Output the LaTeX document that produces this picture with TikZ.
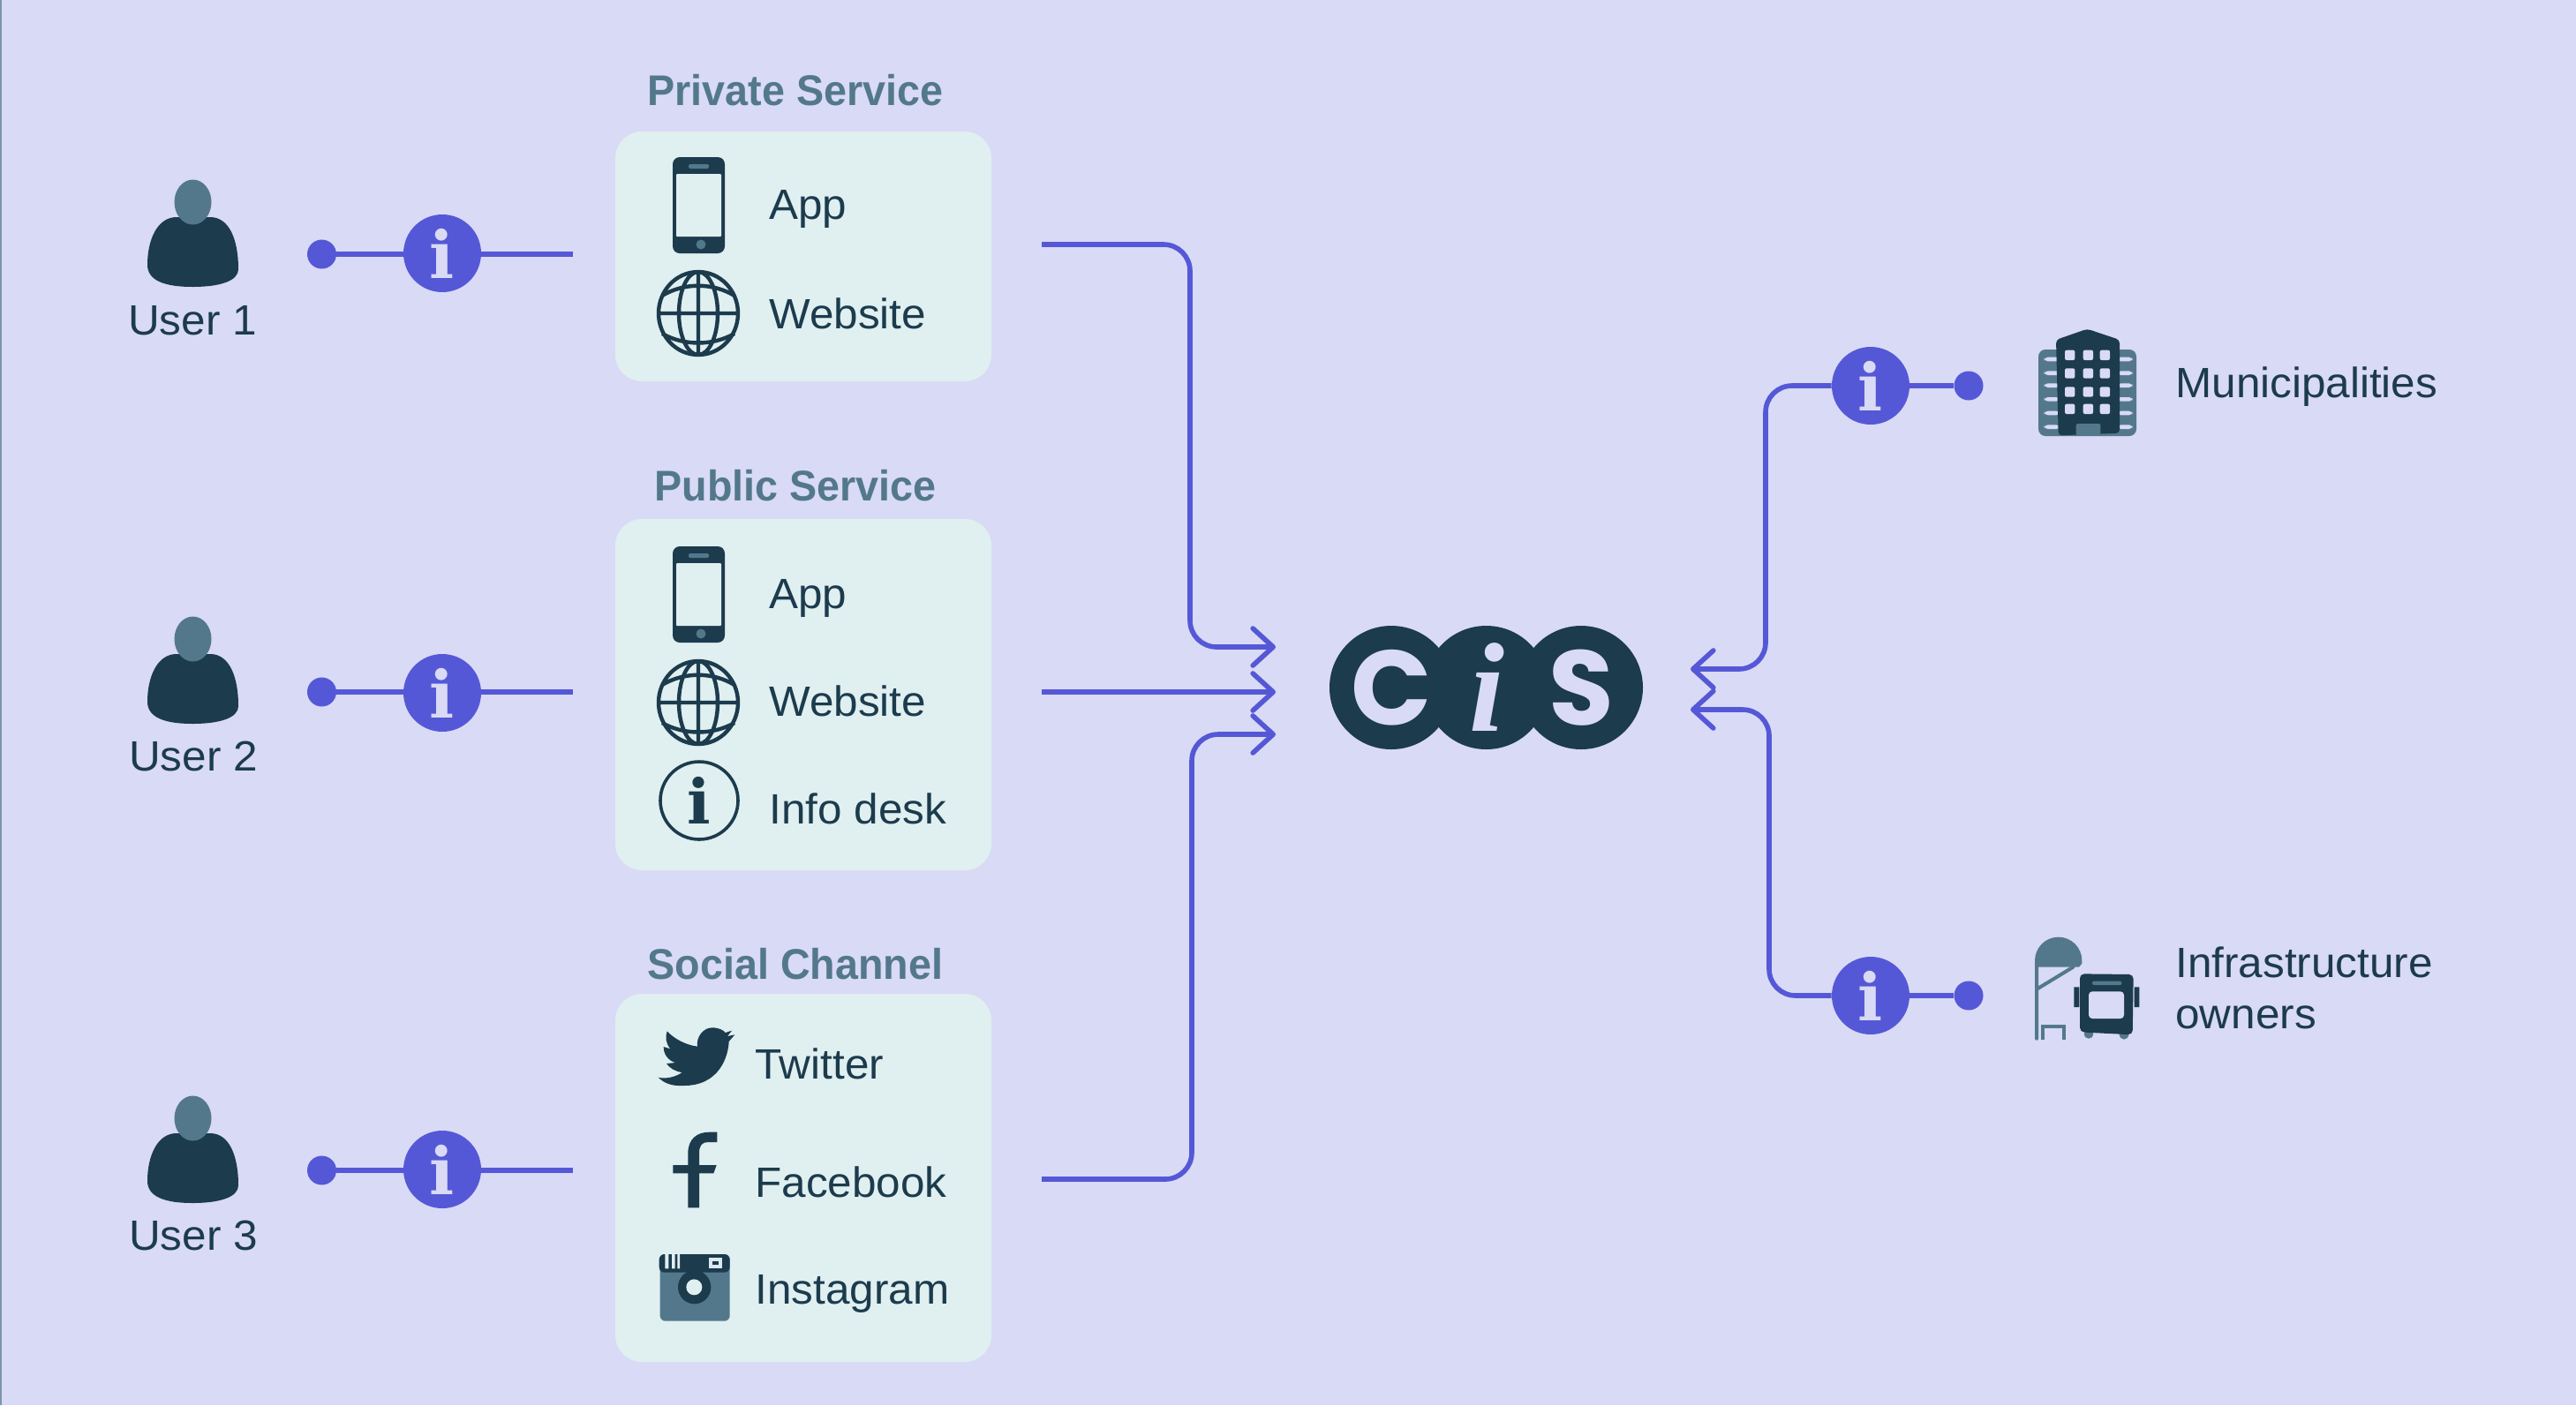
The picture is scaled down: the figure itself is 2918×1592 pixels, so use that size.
\documentclass[tikz,border=0pt]{standalone}
\usepackage{fontspec}
\setmainfont{Liberation Sans}
\newfontfamily\textlabelfont[FakeStretch=1.03]{Liberation Sans}
\newfontfamily\headfont[FakeStretch=0.96]{Liberation Sans}
\newfontfamily\glyphfont{DejaVu Serif}
\newfontfamily\logofont{Poppins}
\newfontfamily\logoifont{Liberation Serif}
\usetikzlibrary{arrows.meta}
\definecolor{bgc}{HTML}{D9DAF5}
\definecolor{boxc}{HTML}{E0EFF0}
\definecolor{darkc}{HTML}{1C3B4D}
\definecolor{slatec}{HTML}{53788C}
\definecolor{purplec}{HTML}{5558D6}
\newcommand{\lbl}{\textlabelfont\fontsize{24}{28}\selectfont}
\tikzset{
  panel/.style={fill=boxc,rounded corners=15pt},
  itemlabel/.style={anchor=base west,inner sep=0pt,text=darkc,font=\lbl},
  userlabel/.style={anchor=base,inner sep=0pt,text=darkc,font=\lbl},
  heading/.style={anchor=base,inner sep=0pt,text=slatec,font=\headfont\bfseries\fontsize{24.3}{28}\selectfont},
  badge/.style={circle,fill=purplec,text=bgc,minimum size=44pt,inner sep=0pt,font=\glyphfont\bfseries\fontsize{37}{37}\selectfont},
  infoicon/.style={circle,draw=darkc,line width=1.8pt,text=darkc,minimum size=44pt,inner sep=0pt,font=\glyphfont\bfseries\fontsize{35}{35}\selectfont},
  dotend/.style={circle,fill=purplec,minimum size=16.5pt,inner sep=0pt},
  link/.style={draw=purplec,line width=3pt},
  flow/.style={draw=purplec,line width=2.8pt,rounded corners=15pt,-{Straight Barb[length=11.5pt,width=21pt,round]}},
  logodisc/.style={circle,fill=darkc,minimum size=70pt,inner sep=0pt},
  logoletter/.style={text=bgc,font=\logofont\bfseries\fontsize{60}{60}\selectfont,inner sep=0pt},
  person/.pic={
    \fill[darkc] (167,300) .. controls (167,272) and (178,246) .. (200,246) -- (238,246)
      .. controls (260,246) and (270,272) .. (270,305) .. controls (270,318) and (250,325) .. (218,325)
      .. controls (187,325) and (167,318) .. (167,300) -- cycle;
    \fill[slatec] (218.5,229) ellipse [x radius=21,y radius=25.5];
  },
  phone/.pic={
    \fill[darkc,rounded corners=4pt] (762,178) rectangle (821,287);
    \fill[boxc,rounded corners=0.5pt] (766,197) rectangle (817,268);
    \fill[slatec,rounded corners=1pt] (780,186) rectangle (803,191);
    \fill[slatec] (794,277) circle [radius=5.5];
  },
  globe/.pic={
    \draw[darkc,line width=2.2pt] (791,355) ellipse [x radius=45,y radius=47]
      (791,308) -- (791,402)
      (791,355) ellipse [x radius=22,y radius=47]
      (746,355) -- (836,355)
      (750,335) .. controls (775,320) and (807,320) .. (832,335)
      (750,378) .. controls (775,392) and (807,392) .. (832,378);
  }
}
\begin{document}
\begin{tikzpicture}[x=0.5pt,y=-0.5pt]
\useasboundingbox (0,0) rectangle (2918,1592);
\fill[bgc] (0,0) rectangle (2918,1592);
\fill[slatec!70!bgc] (0,0) rectangle (2,1592);

% panels
\path[panel] (697,149) rectangle (1123,432);
\path[panel] (697,588) rectangle (1123,986);
\path[panel] (697,1126) rectangle (1123,1543);

% headings
\node[heading] (hPrivate) at (901,119) {Private Service};
\node[heading] (hPublic) at (901,567) {Public Service};
\node[heading] (hSocial) at (901,1109) {Social Channel};

% users
\pic at (0,0) {person};
\pic at (0,495) {person};
\pic at (0,1038) {person};
\node[userlabel] (u1) at (218,379) {User 1};
\node[userlabel] (u2) at (219,873) {User 2};
\node[userlabel] (u3) at (219,1416) {User 3};

% user links
\coordinate (e1) at (649,288);
\coordinate (e2) at (649,784);
\coordinate (e3) at (649,1326);
\node[dotend] (d1) at (364.5,288) {};
\node[dotend] (d2) at (364.5,784) {};
\node[dotend] (d3) at (364.5,1326) {};
\draw[link] (d1) -- (e1);
\draw[link] (d2) -- (e2);
\draw[link] (d3) -- (e3);
\node[badge] (b1) at (501,287) {i};
\node[badge] (b2) at (501,785) {i};
\node[badge] (b3) at (501,1325) {i};

% panel 1
\pic at (0,0) {phone};
\pic at (0,0) {globe};
\node[itemlabel] (t1a) at (871,248) {App};
\node[itemlabel] (t1b) at (871,372) {Website};
% panel 2
\pic at (0,441) {phone};
\pic at (0,441) {globe};
\node[infoicon] (infodesk) at (792,907) {i};
\node[itemlabel] (t2a) at (871,689) {App};
\node[itemlabel] (t2b) at (871,811) {Website};
\node[itemlabel] (t2c) at (871,933) {Info desk};
% panel 3
\begin{scope}[shift={(680,1100)},x=0.16667pt,y=-0.16667pt]
  \fill[darkc] (380,193) .. controls (405,193) and (420,203) .. (425,210) -- (447,203) -- (432,222) -- (457,217) -- (437,240)
    .. controls (435,290) and (405,392) .. (280,390) .. controls (240,392) and (215,380) .. (197,362)
    .. controls (220,368) and (255,362) .. (278,345) .. controls (255,342) and (235,330) .. (225,315)
    -- (255,312) .. controls (232,305) and (215,285) .. (215,258) -- (238,265)
    .. controls (222,245) and (220,225) .. (227,205) .. controls (250,230) and (290,252) .. (330,257)
    .. controls (325,225) and (350,193) .. (380,193) -- cycle;
  \fill[darkc] (298,805) -- (298,688) -- (247,688) -- (247,660) -- (298,660) -- (298,620)
    .. controls (298,570) and (330,548) .. (370,548) -- (397,548) -- (397,582) -- (365,582)
    .. controls (345,582) and (336,595) .. (336,620) -- (336,660) -- (395,660) -- (385,688)
    -- (336,688) -- (336,805) -- cycle;
  \fill[slatec,rounded corners=3pt] (203,963) rectangle (440,1190);
  \fill[darkc,rounded corners=3pt] (200,963) -- (440,963) -- (440,1025) -- (200,1025) -- cycle;
  \fill[boxc] (220,963) rectangle (232,1012) (243,963) rectangle (254,1012) (262,963) rectangle (270,1012);
  \fill[bgc!40!boxc] (370,975) rectangle (415,1012);
  \fill[darkc] (382,986) rectangle (403,1000);
  \fill[darkc] (320,1075) ellipse [x radius=56,y radius=57];
  \fill[boxc] (319,1075) circle [radius=27];
\end{scope}
\node[itemlabel] (t3a) at (855,1222) {Twitter};
\node[itemlabel] (t3b) at (855,1356) {Facebook};
\node[itemlabel] (t3c) at (855,1477) {Instagram};

% logo
\node[logodisc] (lc) at (1576,779) {};
\node[logodisc] (li) at (1683.5,779) {};
\node[logodisc] (ls) at (1791,779) {};
\node[logoletter] (lC) at (1576,779) {C};
\node[logoletter,font=\logoifont\bfseries\itshape\fontsize{72}{72}\selectfont] (lI) at (1684,779) {i};
\node[logoletter] (lS) at (1791,779) {S};

% flows
\coordinate (s1) at (1180,277);
\coordinate (s2) at (1180,784);
\coordinate (s3) at (1180,1336);
\coordinate (t1) at (1445,733);
\coordinate (t2) at (1445,784);
\coordinate (t3) at (1445,832);
\draw[flow] (s1) -- (1348,277) -- (1348,733) -- (t1);
\draw[flow,rounded corners=0pt] (s2) -- (t2);
\draw[flow] (s3) -- (1350,1336) -- (1350,832) -- (t3);

% right side
\node[badge] (b4) at (2119,437) {i};
\node[badge] (b5) at (2119,1128) {i};
\node[dotend] (d4) at (2230,437) {};
\node[dotend] (d5) at (2230,1128) {};
\draw[link] (b4) -- (d4);
\draw[link] (b5) -- (d5);
\coordinate (t4) at (1915,758);
\coordinate (t5) at (1915,804);
\draw[flow] (b4.west) -- (2000,437) -- (2000,758) -- (t4);
\draw[flow] (b5.west) -- (2004,1128) -- (2004,804) -- (t5);

% building
\begin{scope}[shift={(2040,340)},x=0.16667pt,y=-0.16667pt]
  \fill[slatec,rounded corners=4pt] (807,168) rectangle (1140,462);
  \foreach \yy in {201,248,290,337,384,431} {
    \fill[bgc,rounded corners=2pt] (827,\yy-7) rectangle (880,\yy+7);
    \fill[bgc,rounded corners=2pt] (1075,\yy-7) rectangle (1127,\yy+7);
  }
  \fill[darkc,rounded corners=2pt] (867,135) -- (973,98) -- (1083,135) -- (1083,452) -- (875,460) -- cycle;
  \foreach \yy in {187,249,312,370} \foreach \xx in {914,976,1033} {
    \fill[bgc,rounded corners=1pt] (\xx-17,\yy-17) rectangle (\xx+17,\yy+17);
  }
  \fill[slatec,rounded corners=1pt] (935,420) rectangle (1018,459);
\end{scope}
\node[itemlabel] (tm) at (2464,450) {Municipalities};

% bus stop
\begin{scope}[shift={(2040,1030)},x=0.16667pt,y=-0.16667pt]
  \fill[slatec] (795,197) -- (795,175) arc [start angle=180,end angle=360,radius=80] -- (955,185) -- (945,197) -- cycle;
  \draw[slatec,line width=2pt,line cap=round] (801,197) -- (801,440) (805,270) -- (925,197);
  \draw[slatec,line width=2pt] (823,445) -- (823,400) -- (893,400) -- (893,445);
  \fill[slatec] (978,425) ellipse [x radius=16,y radius=15];
  \fill[slatec] (1098,425) ellipse [x radius=16,y radius=18];
  \fill[darkc] (928,265) rectangle (946,333) (1133,265) rectangle (1150,333);
  \fill[darkc,rounded corners=2.5pt] (948,220) -- (1130,222) -- (1127,427) -- (948,418) -- cycle;
  \fill[bgc,rounded corners=2pt] (978,280) rectangle (1098,372);
  \fill[slatec,rounded corners=1pt] (990,245) rectangle (1090,258);
\end{scope}
\node[itemlabel] (ti1) at (2464,1107) {Infrastructure};
\node[itemlabel] (ti2) at (2464,1165) {owners};
\end{tikzpicture}
\end{document}
